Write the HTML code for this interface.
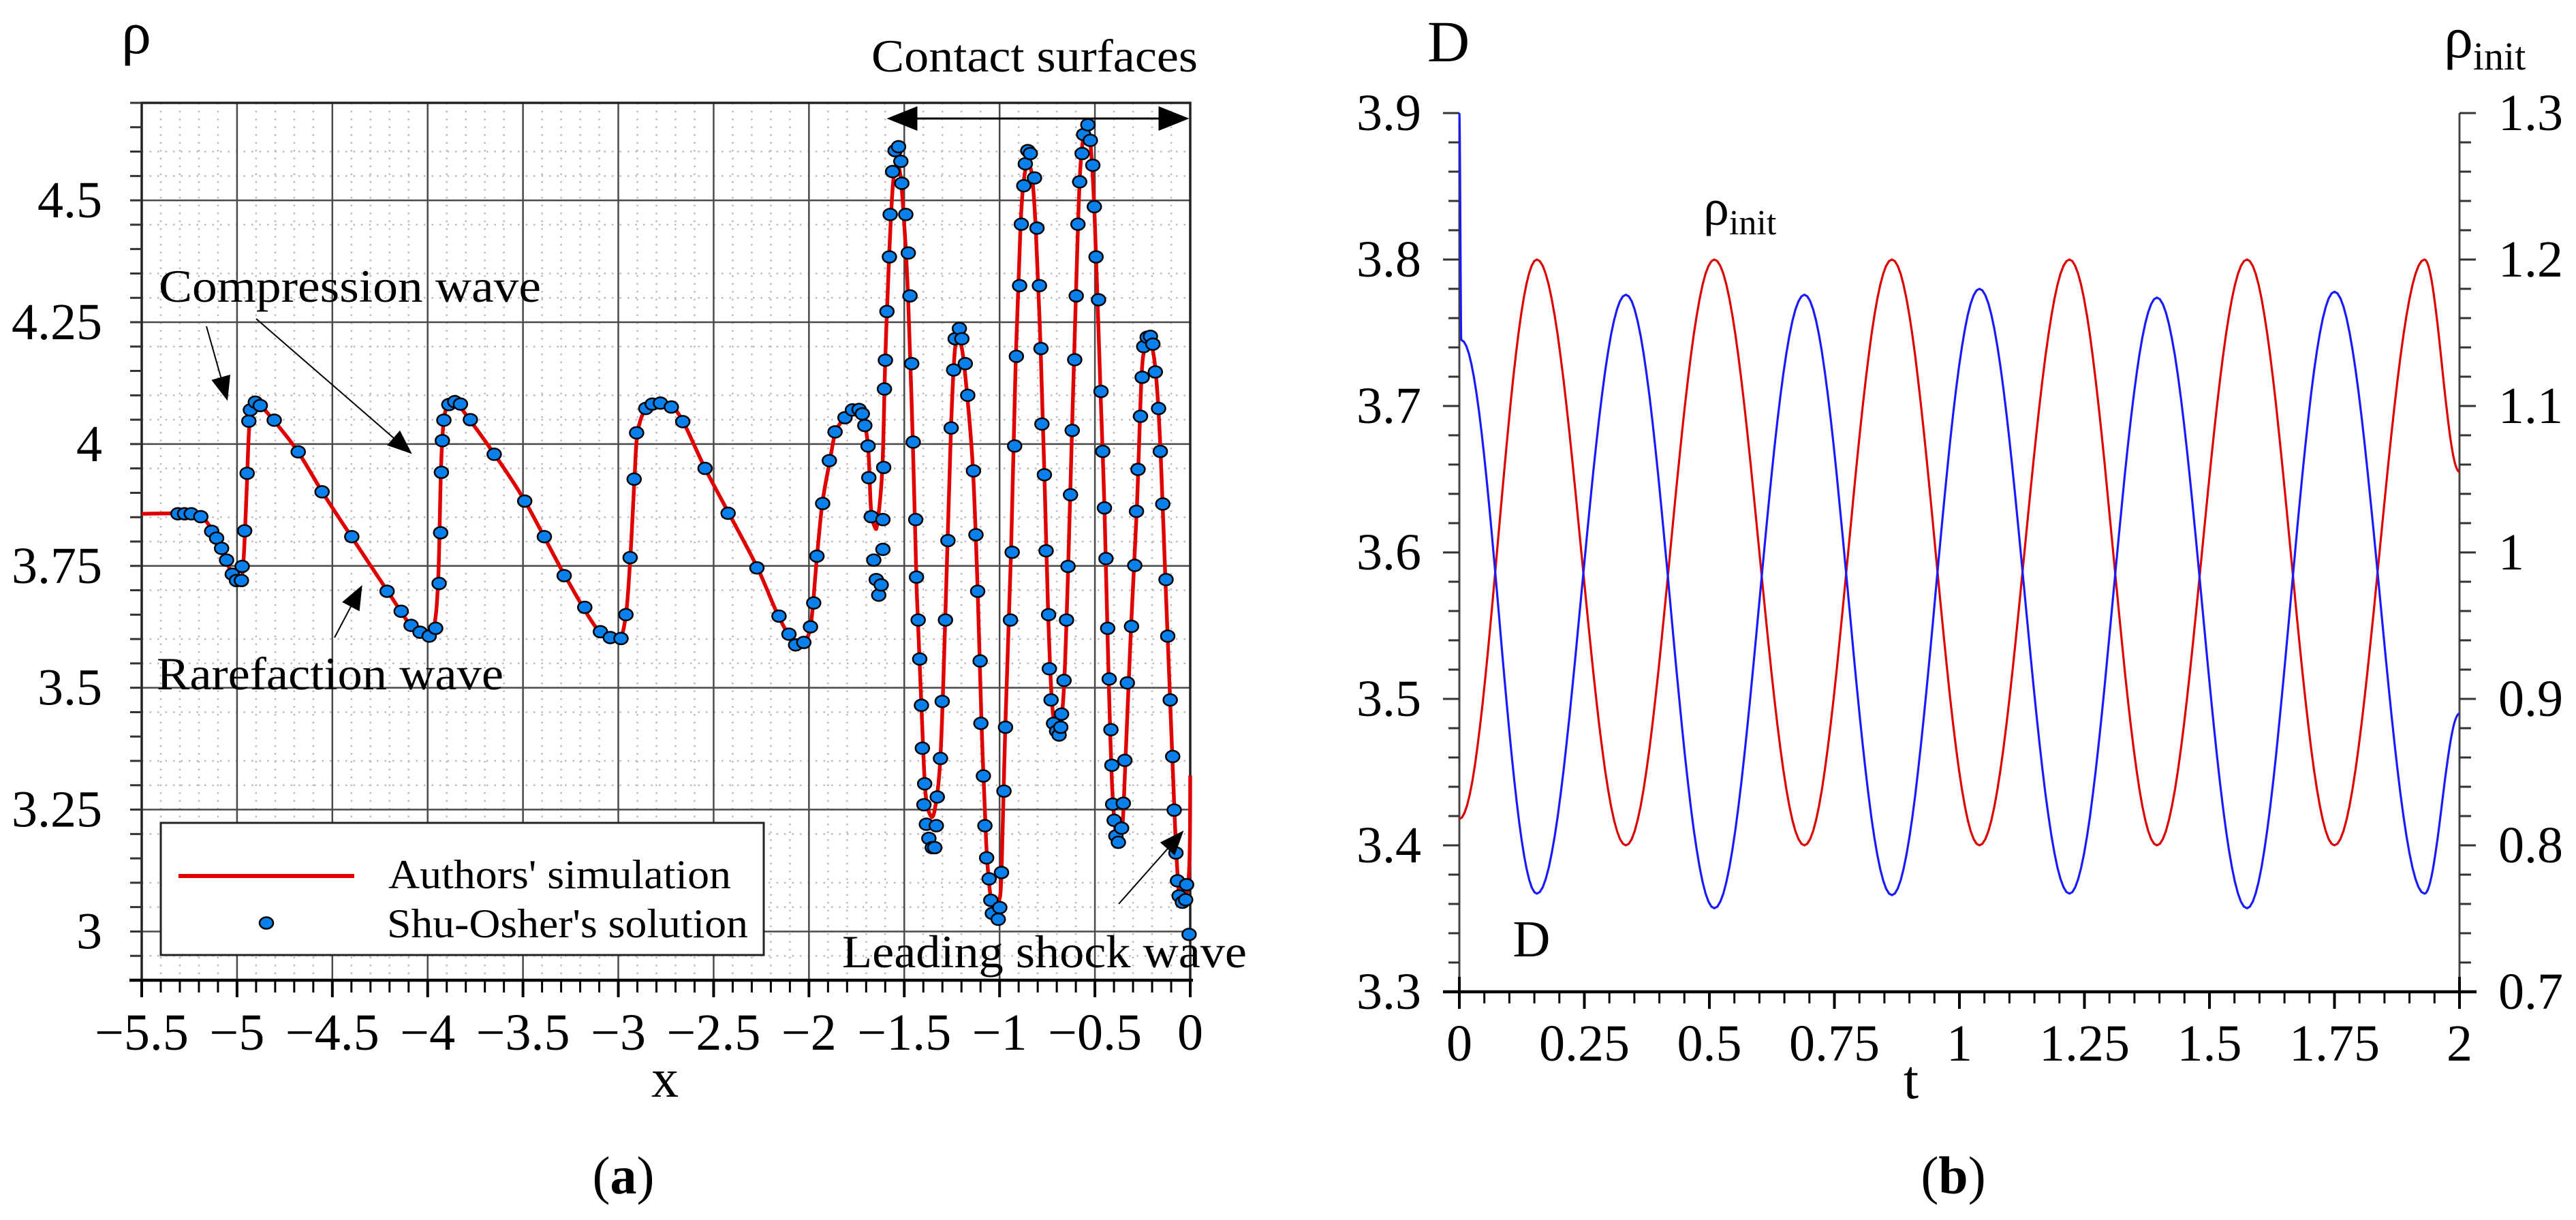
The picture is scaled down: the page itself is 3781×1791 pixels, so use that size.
<!DOCTYPE html>
<html><head><meta charset="utf-8"><title>Shu-Osher comparison and oscillation plots</title>
<style>
html,body{margin:0;padding:0;background:#fff;}
svg{display:block;}
svg text, svg tspan{font-family:"Liberation Serif","DejaVu Serif",serif;}
</style></head>
<body>
<svg id="fig" xmlns="http://www.w3.org/2000/svg" width="3781" height="1791" viewBox="0 0 3781 1791" font-family="Liberation Serif, serif">
<rect x="0" y="0" width="3781" height="1791" fill="#fff"/>
<defs>
<marker id="ahb" viewBox="0 0 10 8" refX="9" refY="4" markerWidth="46" markerHeight="36" orient="auto-start-reverse" markerUnits="userSpaceOnUse">
<path d="M0,0 L10,4 L0,8 z" fill="#000"/></marker>
<marker id="ahs" viewBox="0 0 10 8" refX="9" refY="4" markerWidth="36" markerHeight="30" orient="auto" markerUnits="userSpaceOnUse">
<path d="M0,0 L10,4 L0,8 z" fill="#000"/></marker>
</defs>
<g id="left"></g>
<g id="right"></g>
</svg>
<script>
// ---------- Chart (a) data ----------
const xTicksA = [-5.5,-5,-4.5,-4,-3.5,-3,-2.5,-2,-1.5,-1,-0.5,0];
const xTickLabelsA = ["−5.5","−5","−4.5","−4","−3.5","−3","−2.5","−2","−1.5","−1","−0.5","0"];
const yTicksA = [3,3.25,3.5,3.75,4,4.25,4.5];
const yTickLabelsA = ["3","3.25","3.5","3.75","4","4.25","4.5"];
const simX = [-5.5,-5.25,-5.17,-5.1,-5.04,-5.0,-4.97,-4.95,-4.935,-4.91,-4.88,-4.8,-4.68,-4.55,-4.4,-4.21,-4.09,-4.02,-3.97,-3.945,-3.93,-3.915,-3.89,-3.855,-3.78,-3.65,-3.49,-3.28,-3.1,-3.0,-2.96,-2.935,-2.915,-2.9,-2.86,-2.79,-2.72,-2.66,-2.545,-2.42,-2.27,-2.16,-2.07,-2.025,-1.99,-1.96,-1.93,-1.89,-1.86,-1.81,-1.75,-1.72,-1.69,-1.675,-1.655,-1.64,-1.615,-1.6,-1.58,-1.56,-1.54,-1.52,-1.5,-1.48,-1.455,-1.435,-1.41,-1.39,-1.365,-1.34,-1.31,-1.285,-1.255,-1.235,-1.215,-1.195,-1.17,-1.14,-1.115,-1.095,-1.07,-1.05,-1.03,-1.005,-0.99,-0.97,-0.94,-0.915,-0.89,-0.87,-0.85,-0.83,-0.81,-0.785,-0.765,-0.745,-0.725,-0.7,-0.68,-0.66,-0.64,-0.62,-0.6,-0.58,-0.56,-0.54,-0.52,-0.5,-0.47,-0.45,-0.43,-0.41,-0.39,-0.375,-0.355,-0.34,-0.31,-0.28,-0.255,-0.235,-0.215,-0.195,-0.175,-0.155,-0.13,-0.105,-0.08,-0.06,-0.045,-0.03,-0.01,-0.002,0];
const simY = [3.857,3.857,3.845,3.8,3.745,3.72,3.74,3.9,4.04,4.08,4.08,4.045,3.984,3.9,3.81,3.698,3.628,3.605,3.62,3.72,3.95,4.05,4.08,4.087,4.05,3.979,3.883,3.73,3.615,3.6,3.65,3.78,3.93,4.02,4.07,4.084,4.076,4.046,3.95,3.858,3.746,3.647,3.588,3.595,3.63,3.76,3.878,3.966,4.025,4.054,4.07,4.06,3.996,3.87,3.83,3.84,3.95,4.17,4.38,4.53,4.57,4.55,4.45,4.3,4.0,3.7,3.46,3.29,3.24,3.25,3.36,3.64,4.03,4.19,4.21,4.19,4.1,3.95,3.7,3.43,3.18,3.08,3.05,3.06,3.12,3.42,3.78,4.18,4.45,4.55,4.57,4.55,4.44,4.2,3.94,3.65,3.47,3.41,3.42,3.52,3.75,4.03,4.3,4.54,4.63,4.64,4.6,4.45,4.1,3.87,3.55,3.3,3.2,3.19,3.22,3.35,3.63,3.87,4.14,4.2,4.21,4.19,4.12,3.98,3.72,3.47,3.22,3.08,3.055,3.06,3.1,3.18,3.32];
const refX = [-5.31,-5.275,-5.24,-5.19,-5.133,-5.107,-5.081,-5.055,-5.025,-5.003,-4.977,-4.973,-4.96,-4.947,-4.938,-4.93,-4.904,-4.878,-4.805,-4.679,-4.554,-4.398,-4.213,-4.139,-4.087,-4.04,-3.992,-3.958,-3.94,-3.932,-3.928,-3.923,-3.915,-3.889,-3.858,-3.828,-3.776,-3.651,-3.491,-3.388,-3.284,-3.176,-3.094,-3.042,-2.986,-2.96,-2.938,-2.917,-2.904,-2.856,-2.822,-2.779,-2.722,-2.662,-2.545,-2.424,-2.273,-2.157,-2.105,-2.07,-2.027,-1.992,-1.975,-1.958,-1.928,-1.893,-1.863,-1.811,-1.772,-1.737,-1.72,-1.707,-1.69,-1.686,-1.673,-1.66,-1.647,-1.634,-1.621,-1.612,-1.612,-1.608,-1.604,-1.599,-1.591,-1.578,-1.574,-1.561,-1.548,-1.53,-1.518,-1.513,-1.492,-1.479,-1.47,-1.461,-1.453,-1.44,-1.436,-1.427,-1.419,-1.41,-1.405,-1.393,-1.397,-1.384,-1.371,-1.353,-1.34,-1.332,-1.327,-1.31,-1.301,-1.284,-1.271,-1.254,-1.241,-1.233,-1.211,-1.198,-1.18,-1.167,-1.137,-1.124,-1.115,-1.102,-1.098,-1.085,-1.077,-1.068,-1.055,-1.046,-1.038,-1.007,-0.999,-0.99,-0.977,-0.969,-0.943,-0.934,-0.921,-0.912,-0.895,-0.886,-0.873,-0.865,-0.852,-0.839,-0.817,-0.804,-0.791,-0.783,-0.778,-0.765,-0.756,-0.743,-0.739,-0.73,-0.717,-0.701,-0.688,-0.679,-0.675,-0.662,-0.649,-0.641,-0.628,-0.619,-0.606,-0.598,-0.589,-0.58,-0.567,-0.559,-0.537,-0.524,-0.511,-0.503,-0.494,-0.481,-0.468,-0.459,-0.45,-0.442,-0.433,-0.425,-0.416,-0.411,-0.407,-0.399,-0.39,-0.377,-0.36,-0.351,-0.343,-0.33,-0.308,-0.291,-0.282,-0.274,-0.261,-0.252,-0.244,-0.226,-0.209,-0.196,-0.183,-0.166,-0.157,-0.144,-0.127,-0.118,-0.105,-0.092,-0.084,-0.075,-0.067,-0.058,-0.041,-0.024,-0.019,-0.006];
const refY = [3.857,3.857,3.857,3.851,3.821,3.807,3.786,3.762,3.733,3.72,3.72,3.749,3.822,3.94,4.047,4.07,4.086,4.079,4.049,3.984,3.902,3.81,3.698,3.657,3.628,3.614,3.606,3.622,3.714,3.818,3.942,4.007,4.049,4.081,4.087,4.082,4.05,3.979,3.883,3.81,3.73,3.665,3.615,3.603,3.601,3.65,3.767,3.928,4.023,4.073,4.082,4.084,4.076,4.046,3.95,3.858,3.746,3.647,3.61,3.588,3.593,3.625,3.674,3.77,3.878,3.966,4.025,4.054,4.07,4.071,4.062,4.038,3.996,3.931,3.851,3.762,3.722,3.69,3.711,3.784,3.845,3.952,4.113,4.172,4.272,4.384,4.471,4.559,4.602,4.61,4.58,4.535,4.471,4.392,4.304,4.165,4.004,3.845,3.727,3.639,3.559,3.464,3.376,3.303,3.26,3.22,3.191,3.172,3.172,3.217,3.276,3.355,3.472,3.639,3.802,4.033,4.152,4.216,4.237,4.216,4.165,4.1,3.945,3.814,3.698,3.555,3.427,3.319,3.217,3.151,3.108,3.064,3.037,3.025,3.049,3.121,3.288,3.419,3.639,3.778,3.996,4.18,4.325,4.451,4.53,4.575,4.602,4.596,4.546,4.443,4.325,4.196,4.041,3.937,3.781,3.65,3.539,3.475,3.427,3.411,3.403,3.419,3.446,3.515,3.639,3.749,3.896,4.028,4.173,4.304,4.451,4.538,4.596,4.635,4.655,4.623,4.572,4.487,4.384,4.296,4.108,3.985,3.869,3.765,3.622,3.518,3.414,3.341,3.261,3.228,3.196,3.183,3.212,3.263,3.351,3.51,3.626,3.751,3.862,3.948,4.057,4.137,4.2,4.219,4.221,4.205,4.148,4.073,3.985,3.877,3.722,3.606,3.475,3.359,3.249,3.161,3.104,3.073,3.06,3.065,3.096,2.994];

// ---------- Chart (b) data ----------
const tTicks = [0,0.25,0.5,0.75,1,1.25,1.5,1.75,2];
const tTickLabels = ["0","0.25","0.5","0.75","1","1.25","1.5","1.75","2"];
const dTicks = [3.3,3.4,3.5,3.6,3.7,3.8,3.9];
const dTickLabels = ["3.3","3.4","3.5","3.6","3.7","3.8","3.9"];
const rhoTicks = [0.7,0.8,0.9,1.0,1.1,1.2,1.3];
const rhoTickLabels = ["0.7","0.8","0.9","1","1.1","1.2","1.3"];
const dT = [0,0.004,0.155,0.333,0.51,0.69,0.865,1.04,1.22,1.395,1.575,1.75,1.93,2.0];
const dV = [3.9,3.745,3.367,3.776,3.357,3.776,3.366,3.78,3.367,3.774,3.357,3.778,3.367,3.49];
const rhoT = [0,0.155,0.333,0.51,0.69,0.865,1.04,1.22,1.395,1.575,1.75,1.93,2.0];
const rhoV = [0.818,1.2,0.8,1.2,0.8,1.2,0.8,1.2,0.8,1.2,0.8,1.2,1.055];

const NS = "http://www.w3.org/2000/svg";
const FONT = '"Liberation Serif", "DejaVu Serif", serif';
function mk(tag, parent, attrs){
  const e = document.createElementNS(NS, tag);
  for (const k in attrs) e.setAttribute(k, attrs[k]);
  if (tag === "text") e.setAttribute("font-family", FONT);
  parent.appendChild(e);
  return e;
}
function txt(parent, x, y, s, size, anchor, extra){
  const e = mk("text", parent, Object.assign({x:x, y:y, "font-size":size, "text-anchor":anchor||"start", fill:"#000"}, extra||{}));
  e.textContent = s;
  return e;
}

// ================= Chart (a) =================
const L = document.getElementById("left");


const AX0=208, AX1=1747, AY0=151, AY1=1439, XMIN=-5.5, XMAX=0, YMIN=2.9, YMAX=4.7;
const ax = v => AX0 + (v-XMIN)/(XMAX-XMIN)*(AX1-AX0);
const ay = v => AY1 - (v-YMIN)/(YMAX-YMIN)*(AY1-AY0);

const gridA = mk("g", L, {});


for (let i=1;i<55;i++){ if(i%5===0) continue; const x=ax(XMIN+i*0.1);
  mk("line", gridA, {x1:x,y1:AY0,x2:x,y2:AY1,stroke:"#bbb","stroke-width":2.5,"stroke-dasharray":"2.5 9"}); }
for (let i=1;i<36;i++){ if(i%5===0) continue; const y=ay(YMIN+i*0.05);
  mk("line", gridA, {x1:AX0,y1:y,x2:AX1,y2:y,stroke:"#bbb","stroke-width":2.5,"stroke-dasharray":"2.5 9"}); }
for (let i=1;i<xTicksA.length-1;i++){ const x=ax(xTicksA[i]);
  mk("line", gridA, {x1:x,y1:AY0,x2:x,y2:AY1,stroke:"#4a4a4a","stroke-width":2.5}); }
for (const v of yTicksA){ const y=ay(v);
  mk("line", gridA, {x1:AX0,y1:y,x2:AX1,y2:y,stroke:"#4a4a4a","stroke-width":2.5}); }
mk("rect", gridA, {x:AX0,y:AY0,width:AX1-AX0,height:AY1-AY0,fill:"none",stroke:"#222","stroke-width":3.5});

const yAxA = mk("g", L, {});


for (let i=0;i<=36;i++){ const y=ay(YMIN+i*0.05);
  mk("line", yAxA, {x1:AX0-17,y1:y,x2:AX0,y2:y,stroke:"#333","stroke-width":3}); }
yTicksA.forEach((v,i)=>{
  const t = txt(yAxA, 150, ay(v)+25, yTickLabelsA[i], 76, "end");
  
  
});
const rhoLab = txt(L, 200, 78, "ρ", 88, "middle");



const xAxA = mk("g", L, {});


mk("line", xAxA, {x1:190,y1:AY1,x2:AX1+4,y2:AY1,stroke:"#000","stroke-width":4.5});
for (let i=0;i<=55;i++){ const x=ax(XMIN+i*0.1); const maj = i%5===0;
  mk("line", xAxA, {x1:x,y1:AY1,x2:x,y2:AY1+(maj?25:18),stroke:"#000","stroke-width":maj?4:3}); }
xTicksA.forEach((v,i)=>{
  const t = txt(xAxA, ax(v), 1541, xTickLabelsA[i], 76, "middle");
  
  
});
const xLab = txt(L, 976, 1610, "x", 80, "middle");



function crPath(px, py){
  let d = "M"+px[0].toFixed(1)+","+py[0].toFixed(1);
  for (let i=0;i<px.length-1;i++){
    const i0=Math.max(0,i-1), i3=Math.min(px.length-1,i+2);
    const c1x = px[i]+(px[i+1]-px[i0])/6, c1y = py[i]+(py[i+1]-py[i0])/6;
    const c2x = px[i+1]-(px[i3]-px[i])/6, c2y = py[i+1]-(py[i3]-py[i])/6;
    d += " C"+c1x.toFixed(1)+","+c1y.toFixed(1)+" "+c2x.toFixed(1)+","+c2y.toFixed(1)+" "+px[i+1].toFixed(1)+","+py[i+1].toFixed(1);
  }
  return d;
}
const simLine = mk("path", L, {d:crPath(simX.map(ax), simY.map(ay)), fill:"none", stroke:"#e00000","stroke-width":5.5,"stroke-linejoin":"round"});



const dotsG = mk("g", L, {});


refX.forEach((v,i)=>{
  const c = mk("ellipse", dotsG, {cx:ax(v), cy:ay(refY[i]), rx:10, ry:8.5, fill:"#0a80ec", stroke:"#000","stroke-width":2.5});
  
  
});

const leg = mk("g", L, {});


mk("rect", leg, {x:236,y:1208,width:885,height:194,fill:"#fff",stroke:"#222","stroke-width":3});
const legLine = mk("line", leg, {x1:262,y1:1286,x2:520,y2:1286,stroke:"#e00000","stroke-width":6});


const legDot = mk("ellipse", leg, {cx:391,cy:1355,rx:10,ry:8.5,fill:"#0a80ec",stroke:"#000","stroke-width":2.5});


txt(leg, 570, 1304, "Authors' simulation", 60, "start", {textLength:503, lengthAdjust:"spacingAndGlyphs"});
txt(leg, 568, 1376, "Shu-Osher's solution", 60, "start", {textLength:530, lengthAdjust:"spacingAndGlyphs"});

const ann = mk("g", L, {});


txt(ann, 233, 443, "Compression wave", 68, "start", {textLength:561, lengthAdjust:"spacingAndGlyphs"});
txt(ann, 230, 1012, "Rarefaction wave", 68, "start", {textLength:509, lengthAdjust:"spacingAndGlyphs"});
txt(ann, 1279, 105, "Contact surfaces", 68, "start", {textLength:479, lengthAdjust:"spacingAndGlyphs"});
txt(ann, 1236, 1420, "Leading shock wave", 68, "start", {textLength:594, lengthAdjust:"spacingAndGlyphs"});
mk("line", ann, {x1:303,y1:479,x2:333,y2:585,stroke:"#000","stroke-width":2,"marker-end":"url(#ahs)"});
mk("line", ann, {x1:376,y1:468,x2:602,y2:664,stroke:"#000","stroke-width":2,"marker-end":"url(#ahs)"});
mk("line", ann, {x1:491,y1:936,x2:530,y2:862,stroke:"#000","stroke-width":2,"marker-end":"url(#ahs)"});
mk("line", ann, {x1:1642,y1:1327,x2:1735,y2:1222,stroke:"#000","stroke-width":2,"marker-end":"url(#ahs)"});
mk("line", ann, {x1:1306,y1:174,x2:1741,y2:174,stroke:"#000","stroke-width":3,"marker-start":"url(#ahb)","marker-end":"url(#ahb)"});

const capA = mk("text", L, {x:915,y:1752,"font-size":78,"text-anchor":"middle",fill:"#000"});
capA.innerHTML = '(<tspan font-weight="bold">a</tspan>)';



// ================= Chart (b) =================
const R = document.getElementById("right");


const BX0=2142, BX1=3610, BY0=166, BY1=1456;
const bx = t => BX0 + t/2*(BX1-BX0);
const by = v => BY1 - (v-3.3)/0.6*(BY1-BY0);
const br = v => BY1 - (v-0.7)/0.6*(BY1-BY0);

const lAx = mk("g", R, {});


mk("line", lAx, {x1:BX0,y1:BY0,x2:BX0,y2:BY1,stroke:"#444","stroke-width":3});
for (let i=0;i<=30;i++){ const y=by(3.3+i*0.02); const maj=i%5===0;
  mk("line", lAx, {x1:BX0-(maj?24:16),y1:y,x2:BX0,y2:y,stroke:"#333","stroke-width":3}); }
dTicks.forEach((v,i)=>{
  const t = txt(lAx, 2086, by(v)+25, dTickLabels[i], 76, "end");
  
  
});
const dLab = txt(R, 2126, 90, "D", 86, "middle");



const rAx = mk("g", R, {});


mk("line", rAx, {x1:BX1,y1:BY0,x2:BX1,y2:BY1-22,stroke:"#444","stroke-width":3});
for (let i=1;i<=30;i++){ const y=br(0.7+i*0.02); const maj=i%5===0;
  mk("line", rAx, {x1:BX1,y1:y,x2:BX1+(maj?24:17),y2:y,stroke:"#333","stroke-width":3}); }
rhoTicks.forEach((v,i)=>{
  const t = txt(rAx, 3667, br(v)+25, rhoTickLabels[i], 76, "start");
  
  
});
const rLab = mk("text", R, {x:3587,y:84,"font-size":86,fill:"#000"});
rLab.innerHTML = 'ρ<tspan font-size="58" dy="18">init</tspan>';



const bAx = mk("g", R, {});


mk("line", bAx, {x1:2118,y1:BY1,x2:3635,y2:BY1,stroke:"#000","stroke-width":4.5});
for (let i=0;i<=40;i++){ const x=bx(i*0.05); const maj=i%5===0;
  mk("line", bAx, {x1:x,y1:BY1-(i===0||i===40?22:0),x2:x,y2:BY1+(maj?25:17),stroke:"#000","stroke-width":maj?4:3}); }
tTicks.forEach((v,i)=>{
  const t = txt(bAx, bx(v), 1557, tTickLabels[i], 76, "middle");
  
  
});
const tLab = txt(R, 2805, 1612, "t", 80, "middle");



function cosPath(T, V, fx, fy){
  let d = "M"+fx(T[0]).toFixed(1)+","+fy(V[0]).toFixed(1);
  for (let i=0;i<T.length-1;i++){
    const n = 30;
    for (let k=1;k<=n;k++){
      const f = k/n; const t = T[i]+(T[i+1]-T[i])*f;
      const v = V[i] + (V[i+1]-V[i])*(1-Math.cos(Math.PI*f))/2;
      d += " L"+fx(t).toFixed(1)+","+fy(v).toFixed(1);
    }
  }
  return d;
}
const rhoLine = mk("path", R, {d:cosPath(rhoT, rhoV, bx, br), fill:"none", stroke:"#dd0000","stroke-width":3.2,"stroke-linejoin":"round"});


const dLine = mk("path", R, {d:cosPath(dT, dV, bx, by), fill:"none", stroke:"#1a1aff","stroke-width":3.2,"stroke-linejoin":"round"});



const inRho = mk("text", R, {x:2500,y:330,"font-size":76,fill:"#000"});
inRho.innerHTML = 'ρ<tspan font-size="52" dy="14">init</tspan>';


const inD = txt(R, 2248, 1404, "D", 76, "middle");



const capB = mk("text", R, {x:2867,y:1752,"font-size":78,"text-anchor":"middle",fill:"#000"});
capB.innerHTML = '(<tspan font-weight="bold">b</tspan>)';


</script>
</body></html>
